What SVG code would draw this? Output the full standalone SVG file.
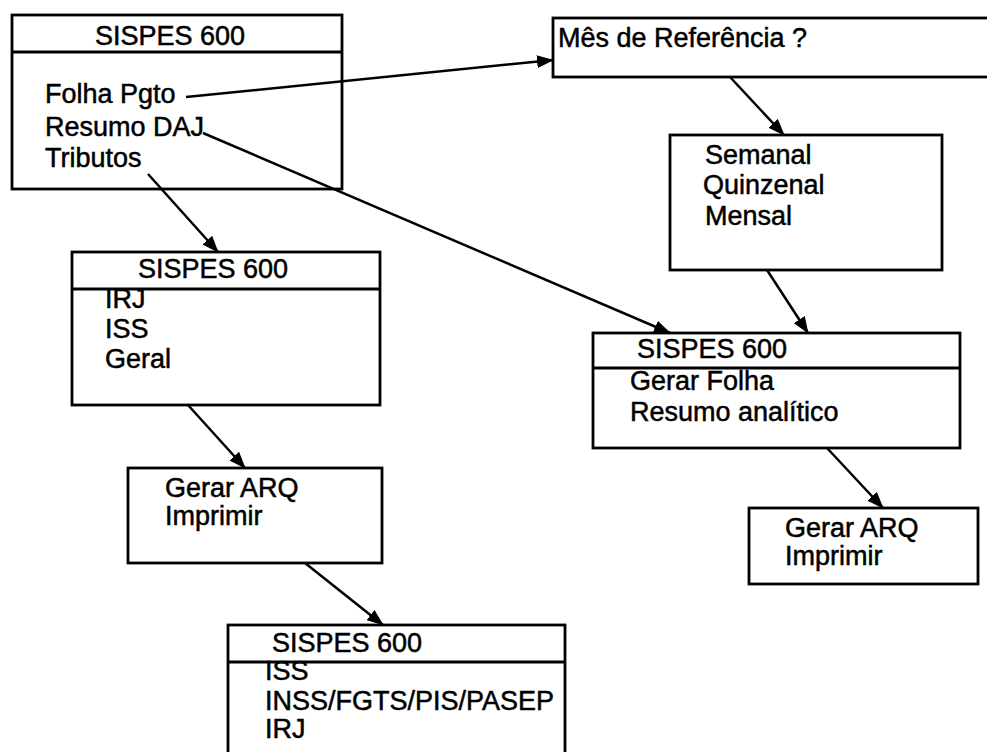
<svg xmlns="http://www.w3.org/2000/svg" width="987" height="752" viewBox="0 0 987 752">
  <style>
    .box { fill: #fff; stroke: #000; stroke-width: 2.8; }
    .div { stroke: #000; stroke-width: 2.8; }
    .t { font-family: "Liberation Sans", Arial, sans-serif; font-size: 27px; fill: #000; stroke: #000; stroke-width: 0.5; }
    .edge { stroke: #000; stroke-width: 2.5; fill: none; marker-end: url(#arrow); }
  </style>
  <defs>
    <marker id="arrow" markerUnits="userSpaceOnUse" markerWidth="17" markerHeight="13" refX="16" refY="6.5" orient="auto">
      <path d="M0,0 L17,6.5 L0,13 z" fill="#000"/>
    </marker>
  </defs>
  <rect width="987" height="752" fill="#fff"/>

  <!-- main menu -->
  <g id="menu">
    <rect class="box" x="12" y="15" width="330" height="174"/>
    <line class="div" x1="12" y1="52" x2="342" y2="52"/>
    <text class="t" x="95" y="45">SISPES 600</text>
    <text class="t" x="45" y="103">Folha Pgto</text>
    <text class="t" x="45" y="136">Resumo DAJ</text>
    <text class="t" x="45" y="167">Tributos</text>
  </g>

  <!-- reference month prompt -->
  <g id="mes">
    <rect class="box" x="553" y="18" width="440" height="59"/>
    <text class="t" x="558" y="47">Mês de Referência ?</text>
  </g>

  <!-- period choice -->
  <g id="periodo">
    <rect class="box" x="670" y="135" width="272" height="135"/>
    <text class="t" x="705" y="164">Semanal</text>
    <text class="t" x="703" y="194">Quinzenal</text>
    <text class="t" x="705" y="225">Mensal</text>
  </g>

  <!-- payroll generation -->
  <g id="folha">
    <rect class="box" x="593" y="333" width="367" height="115"/>
    <line class="div" x1="593" y1="368" x2="960" y2="368"/>
    <text class="t" x="637" y="358">SISPES 600</text>
    <text class="t" x="630" y="390">Gerar Folha</text>
    <text class="t" x="630" y="421">Resumo analítico</text>
  </g>

  <!-- payroll output -->
  <g id="saida-folha">
    <rect class="box" x="749" y="508" width="229" height="76"/>
    <text class="t" x="785" y="537">Gerar ARQ</text>
    <text class="t" x="785" y="565">Imprimir</text>
  </g>

  <!-- taxes menu -->
  <g id="tributos">
    <rect class="box" x="72" y="252" width="308" height="153"/>
    <line class="div" x1="72" y1="289" x2="380" y2="289"/>
    <text class="t" x="138" y="278">SISPES 600</text>
    <text class="t" x="105" y="308">IRJ</text>
    <text class="t" x="105" y="338">ISS</text>
    <text class="t" x="105" y="368">Geral</text>
  </g>

  <!-- taxes output -->
  <g id="saida-tributos">
    <rect class="box" x="128" y="468" width="254" height="95"/>
    <text class="t" x="165" y="497">Gerar ARQ</text>
    <text class="t" x="165" y="525">Imprimir</text>
  </g>

  <!-- tax files -->
  <g id="arquivos">
    <rect class="box" x="228" y="625" width="337" height="140"/>
    <line class="div" x1="228" y1="662" x2="565" y2="662"/>
    <text class="t" x="272" y="652">SISPES 600</text>
    <text class="t" x="265" y="680">ISS</text>
    <text class="t" x="265" y="710">INSS/FGTS/PIS/PASEP</text>
    <text class="t" x="265" y="738">IRJ</text>
  </g>

  <!-- connectors -->
  <g id="connectors">
    <line class="edge" x1="186" y1="97" x2="553" y2="60"/>
    <line class="edge" x1="203" y1="133" x2="670" y2="333"/>
    <line class="edge" x1="148" y1="174" x2="218" y2="252"/>
    <line class="edge" x1="730" y1="77" x2="784" y2="135"/>
    <line class="edge" x1="767" y1="270" x2="808" y2="333"/>
    <line class="edge" x1="188" y1="405" x2="245" y2="468"/>
    <line class="edge" x1="305" y1="563" x2="383" y2="625"/>
    <line class="edge" x1="827" y1="448" x2="883" y2="508"/>
  </g>
</svg>
